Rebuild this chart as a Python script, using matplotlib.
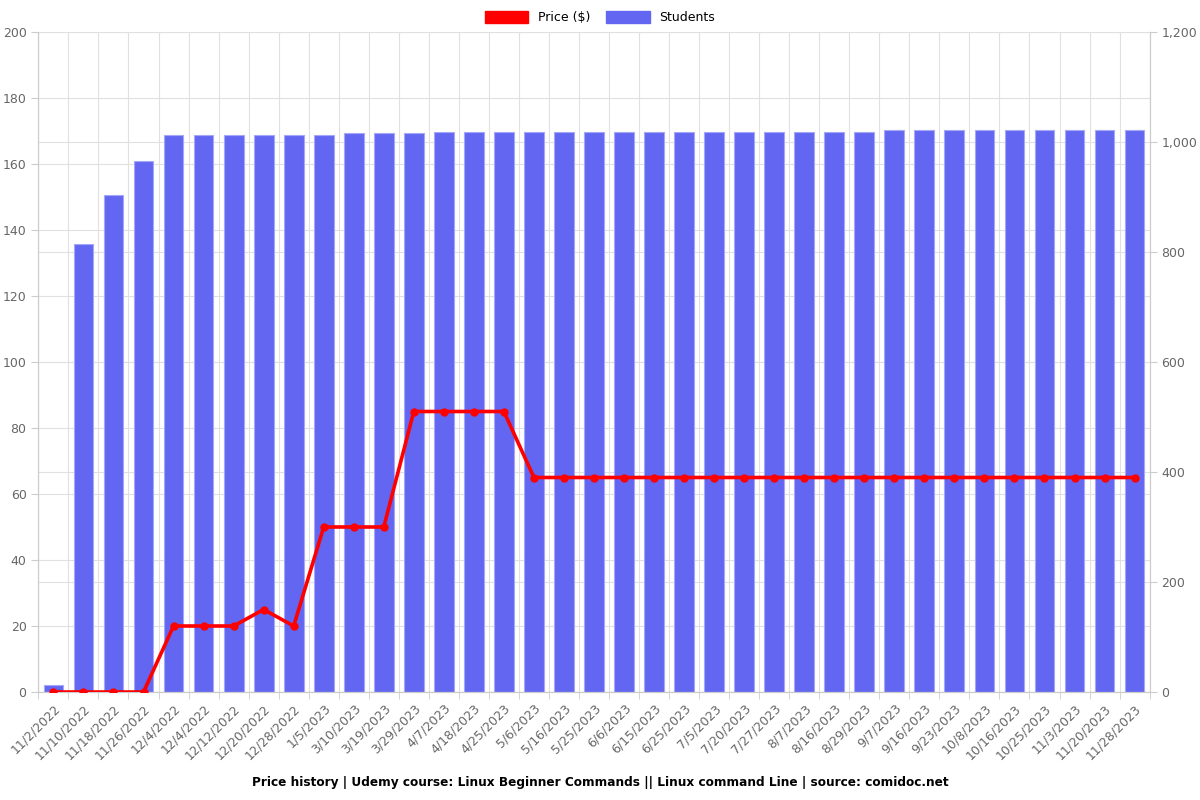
import matplotlib.pyplot as plt
import numpy as np
from matplotlib.patches import Patch
from matplotlib.ticker import FuncFormatter, MultipleLocator

# dados
dates = ['11/2/2022', '11/10/2022', '11/18/2022', '11/26/2022', '12/4/2022', '12/4/2022',
         '12/12/2022', '12/20/2022', '12/28/2022', '1/5/2023', '3/10/2023', '3/19/2023',
         '3/29/2023', '4/7/2023', '4/18/2023', '4/25/2023', '5/6/2023', '5/16/2023',
         '5/25/2023', '6/6/2023', '6/15/2023', '6/25/2023', '7/5/2023', '7/20/2023',
         '7/27/2023', '8/7/2023', '8/16/2023', '8/29/2023', '9/7/2023', '9/16/2023',
         '9/23/2023', '10/8/2023', '10/16/2023', '10/25/2023', '11/3/2023', '11/20/2023',
         '11/28/2023']
price = [0, 0, 0, 0, 20, 20, 20, 25, 20, 50, 50, 50, 85, 85, 85, 85, 65, 65, 65, 65,
         65, 65, 65, 65, 65, 65, 65, 65, 65, 65, 65, 65, 65, 65, 65, 65, 65]
students = [12, 815, 904, 965, 1012, 1012, 1012, 1012, 1012, 1013, 1016, 1016, 1016,
            1019, 1019, 1019, 1019, 1019, 1019, 1019, 1019, 1019, 1019, 1019, 1019,
            1019, 1019, 1019, 1021, 1021, 1021, 1021, 1021, 1021, 1021, 1021, 1021]

x = np.arange(len(dates))
txt = '#666666'
gridc = '#e0e0e0'

fig, ax = plt.subplots(figsize=(12, 8), dpi=100)
fig.subplots_adjust(left=0.032, right=0.958, top=0.96, bottom=0.135)
ax2 = ax.twinx()

# barras no eixo direito, atrás da linha
ax2.set_zorder(1)
ax.set_zorder(2)
ax.patch.set_visible(False)

ax2.bar(x, students, width=0.66, color='#6366F1', edgecolor='#a5a7f7', linewidth=0.8, zorder=2)
ax.plot(x, price, color='#FF0000', linewidth=2.6, marker='o', markersize=5, zorder=3)

ax.set_xlim(-0.5, len(dates) - 0.5)
ax.set_ylim(0, 200)
ax2.set_ylim(0, 1200)
ax.yaxis.set_major_locator(MultipleLocator(20))
ax2.yaxis.set_major_locator(MultipleLocator(200))
ax2.yaxis.set_major_formatter(FuncFormatter(lambda v, p: f'{int(v):,}'))

# grade
ax2.grid(axis='y', color=gridc, linewidth=0.8, zorder=0)
ax2.set_axisbelow(True)
for b in np.arange(-0.5, len(dates), 1):
    ax2.axvline(b, color=gridc, linewidth=0.8, zorder=0)
for v in range(0, 201, 20):
    ax2.axhline(v * 6, color=gridc, linewidth=0.8, zorder=0)

ax.set_xticks(x)
ax.set_xticklabels(dates, rotation=45, ha='right', rotation_mode='anchor', fontsize=9, color=txt)
ax.tick_params(axis='x', length=0, pad=7)
ax.set_xticks(np.arange(-0.5, len(dates), 1), minor=True)
ax.tick_params(axis='x', which='minor', length=5, color='#cccccc')
ax.tick_params(axis='y', labelsize=9, labelcolor=txt, length=5, color='#cccccc')
ax2.tick_params(axis='y', labelsize=9, labelcolor=txt, length=5, color='#cccccc')

for a in (ax, ax2):
    for s in a.spines.values():
        s.set_color('#cccccc')
    a.spines['top'].set_visible(False)

handles = [Patch(color='#FF0000', label='Price ($)'), Patch(color='#6366F1', label='Students')]
fig.legend(handles=handles, loc='upper center', bbox_to_anchor=(0.5, 1.0), ncol=2,
           frameon=False, fontsize=9, handlelength=3.5, handleheight=1, columnspacing=1.2)

fig.text(0.5, 0.017, 'Price history | Udemy course: Linux Beginner Commands || Linux command Line | source: comidoc.net',
         ha='center', fontsize=8.7, fontweight='bold')

plt.savefig('out.png')
